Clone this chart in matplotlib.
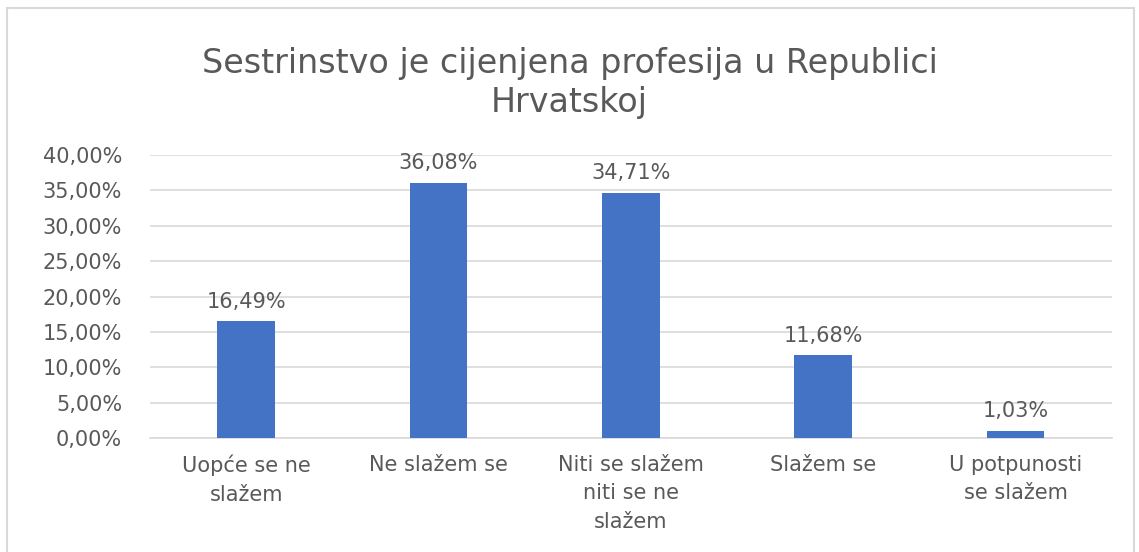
import matplotlib
matplotlib.use("Agg")
import matplotlib.pyplot as plt
from matplotlib.patches import Rectangle

categories = ["Uopće se ne\nslažem", "Ne slažem se", "Niti se slažem\nniti se ne\nslažem", "Slažem se", "U potpunosti\nse slažem"]
values = [16.49, 36.08, 34.71, 11.68, 1.03]
yticks = [0, 5, 10, 15, 20, 25, 30, 35, 40]
title = "Sestrinstvo je cijenjena profesija u Republici\nHrvatskoj"

plt.rcParams['font.family'] = ['DejaVu Sans']
txt = '#595959'

fig = plt.figure(figsize=(11.39, 5.52), dpi=100)
fig.patches.append(Rectangle((0.006, -0.01), 0.99, 0.995, transform=fig.transFigure,
                             fill=False, edgecolor='#d9d9d9', linewidth=1.5))
ax = fig.add_axes([0.1317, 0.2065, 0.8443, 0.5125])
x = list(range(len(categories)))
bars = ax.bar(x, values, width=0.3, color='#4472C4', zorder=3)
ax.set_xlim(-0.5, len(categories) - 0.5)
ax.set_ylim(0, 40)
ax.set_yticks(yticks)
ax.set_yticklabels([f"{v:.2f}".replace('.', ',') + "%" for v in yticks], fontsize=15, color=txt)
ax.set_xticks(x)
ax.set_xticklabels(categories, fontsize=15, color=txt, linespacing=1.55)
ax.tick_params(axis='x', length=0, pad=12)
ax.tick_params(axis='y', length=0, pad=20)
ax.grid(axis='y', color='#d9d9d9', linewidth=1.2, zorder=0)
for s in ['top', 'right', 'left']:
    ax.spines[s].set_visible(False)
ax.spines['bottom'].set_color('#d9d9d9')
ax.spines['bottom'].set_linewidth(1.2)
for xi, v in zip(x, values):
    ax.annotate(f"{v:.2f}".replace('.', ',') + "%", (xi, v), xytext=(0, 7),
                textcoords='offset points', ha='center', va='bottom', fontsize=15, color=txt)
fig.text(0.5, 0.915, title, ha='center', va='top', fontsize=24, color=txt, linespacing=1.22)
fig.savefig("out.png", dpi=100)
